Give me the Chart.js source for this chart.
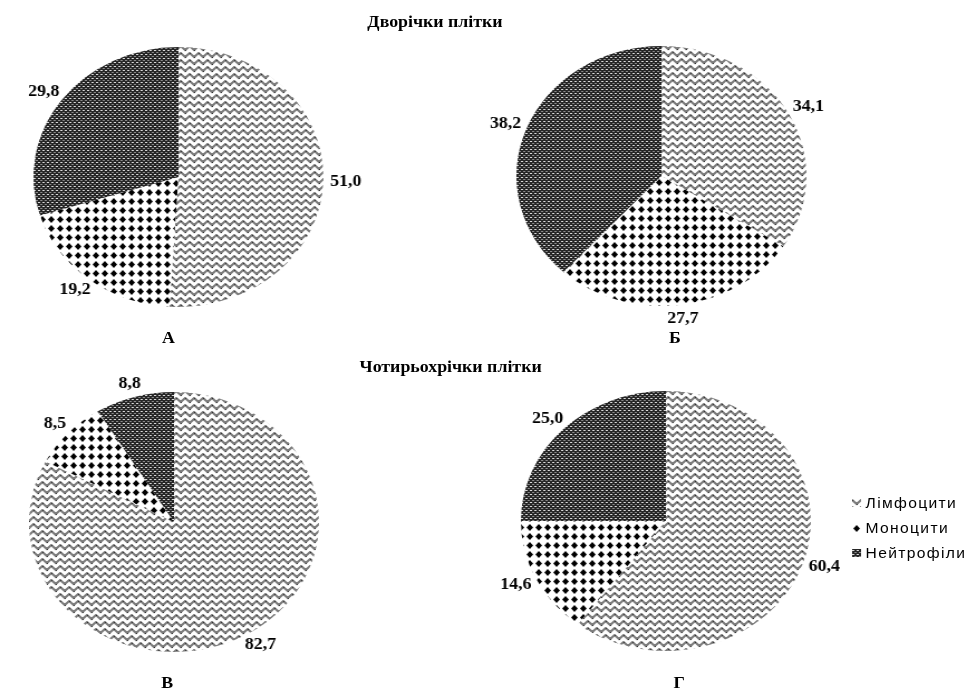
<!DOCTYPE html>
<html>
<head>
<meta charset="utf-8">
<script src="https://cdn.jsdelivr.net/npm/chart.js@4.4.1/dist/chart.umd.min.js"></script>
<style>
    html, body { margin: 0; padding: 0; background: #fff; width: 966px; height: 689px; overflow: hidden; }
    /* the original picture is stretched sideways, so the whole page is too */
    #page { position: absolute; left: 0; top: 0; width: 866px; height: 689px; transform: scaleX(1.1154); transform-origin: 0 0; }
    .pie { position: absolute; width: 380px; height: 320px; }
    .t { position: absolute; font-family: "Liberation Serif", "Times New Roman", serif; font-weight: bold; font-size: 16px; color: #000; white-space: nowrap; transform: translate(-50%, -50%); }
    #legend { position: absolute; left: 764px; top: 491px; font-family: "Liberation Sans", Arial, sans-serif; font-size: 14px; letter-spacing: 1.2px; color: #000; }
    #legend div { height: 25px; line-height: 25px; white-space: nowrap; }
    #legend canvas { vertical-align: middle; margin-right: 4px; position: relative; top: -1px; }
</style>
</head>
<body>
<div id="page">
    <div class="t" style="left:390px; top:22px;" id="title1"></div>
    <div class="t" style="left:404px; top:367px;" id="title2"></div>

    <div class="pie" style="left:-30px; top:17px;"><canvas id="pieA" width="380" height="320"></canvas></div>
    <div class="pie" style="left:403px; top:16px;"><canvas id="pieB" width="380" height="320"></canvas></div>
    <div class="pie" style="left:-34px; top:362px;"><canvas id="pieV" width="380" height="320"></canvas></div>
    <div class="pie" style="left:407px; top:361px;"><canvas id="pieG" width="380" height="320"></canvas></div>

    <div class="t" style="left:151px; top:338px;" id="letter0"></div>
    <div class="t" style="left:605px; top:338px;" id="letter1"></div>
    <div class="t" style="left:150px; top:683px;" id="letter2"></div>
    <div class="t" style="left:609px; top:683px;" id="letter3"></div>

    <div id="legend"></div>
</div>
<script>
// data, %
const categories = ['Лімфоцити', 'Моноцити', 'Нейтрофіли'];
const groupTitles = ['Дворічки плітки', 'Чотирьохрічки плітки'];
const panelLetters = ['А', 'Б', 'В', 'Г'];
const valuesA = [51.0, 19.2, 29.8];
const valuesB = [34.1, 27.7, 38.2];
const valuesV = [82.7, 8.5, 8.8];
const valuesG = [60.4, 14.6, 25.0];

// hatch fills like the Office patterns
function makeTile(w, h, draw) {
    const c = document.createElement('canvas');
    c.width = w;
    c.height = h;
    draw(c.getContext('2d'));
    return c;
}

const zigzag = makeTile(8, 7, function (g) {
    g.fillStyle = '#fff';
    g.fillRect(0, 0, 8, 7);
    g.strokeStyle = '#7a7a7a';
    g.lineWidth = 2;
    g.beginPath();
    g.moveTo(-4, 5); g.lineTo(0, 1); g.lineTo(4, 5); g.lineTo(8, 1); g.lineTo(12, 5);
    g.stroke();
    g.fillStyle = '#333';
    g.fillRect(0, 1, 1, 1);
    g.fillRect(4, 5, 1, 1);
});
const diamonds = makeTile(8, 9, function (g) {
    g.fillStyle = '#fff';
    g.fillRect(0, 0, 8, 9);
    g.fillStyle = '#000';
    g.beginPath();
    g.moveTo(4, 1); g.lineTo(7, 4.5); g.lineTo(4, 8); g.lineTo(1, 4.5);
    g.closePath();
    g.fill();
});
const darkDash = makeTile(4, 4, function (g) {
    g.fillStyle = '#262626';
    g.fillRect(0, 0, 4, 4);
    g.fillStyle = '#d8d8d8';
    g.fillRect(0, 1, 2, 1);
    g.fillStyle = '#8a8a8a';
    g.fillRect(2, 3, 2, 1);
});

const tmp = document.createElement('canvas').getContext('2d');
const fills = [zigzag, diamonds, darkDash].map(function (t) { return tmp.createPattern(t, 'repeat'); });

// value labels just outside each slice, the text box touching the edge
const outsideLabels = {
    id: 'outsideLabels',
    afterDatasetsDraw(chart) {
        const ctx = chart.ctx;
        const meta = chart.getDatasetMeta(0);
        const vals = chart.data.datasets[0].data;
        ctx.save();
        ctx.font = 'bold 16px "Liberation Serif", "Times New Roman", serif';
        ctx.fillStyle = '#000';
        ctx.textAlign = 'center';
        ctx.textBaseline = 'middle';
        meta.data.forEach(function (arc, i) {
            const p = arc.getProps(['x', 'y', 'startAngle', 'endAngle', 'outerRadius'], true);
            const mid = (p.startAngle + p.endAngle) / 2;
            const txt = vals[i].toFixed(1).replace('.', ',');
            const hw = ctx.measureText(txt).width / 2;
            const r = p.outerRadius + 6;
            const dx = Math.cos(mid), dy = Math.sin(mid);
            ctx.fillText(txt, p.x + dx * (r + hw), p.y + dy * (r + 8));
        });
        ctx.restore();
    }
};

function drawPie(id, values) {
    return new Chart(document.getElementById(id), {
        type: 'pie',
        data: {
            labels: categories,
            datasets: [{
                data: values,
                backgroundColor: fills,
                borderWidth: 0
            }]
        },
        options: {
            responsive: false,
            animation: false,
            events: [],
            layout: { padding: { left: 60, right: 60, top: 30, bottom: 30 } },
            plugins: {
                legend: { display: false },
                tooltip: { enabled: false }
            }
        },
        plugins: [outsideLabels]
    });
}

drawPie('pieA', valuesA);
drawPie('pieB', valuesB);
drawPie('pieV', valuesV);
drawPie('pieG', valuesG);

document.getElementById('title1').textContent = groupTitles[0];
document.getElementById('title2').textContent = groupTitles[1];
panelLetters.forEach(function (l, i) {
    document.getElementById('letter' + i).textContent = l;
});

// legend with little pattern swatches
const legend = document.getElementById('legend');
categories.forEach(function (name, i) {
    const row = document.createElement('div');
    const sw = document.createElement('canvas');
    sw.width = 8;
    sw.height = 8;
    const g = sw.getContext('2d');
    g.fillStyle = g.createPattern([zigzag, diamonds, darkDash][i], 'repeat');
    g.fillRect(0, 0, 8, 8);
    row.appendChild(sw);
    row.appendChild(document.createTextNode(name));
    legend.appendChild(row);
});
</script>
</body>
</html>
